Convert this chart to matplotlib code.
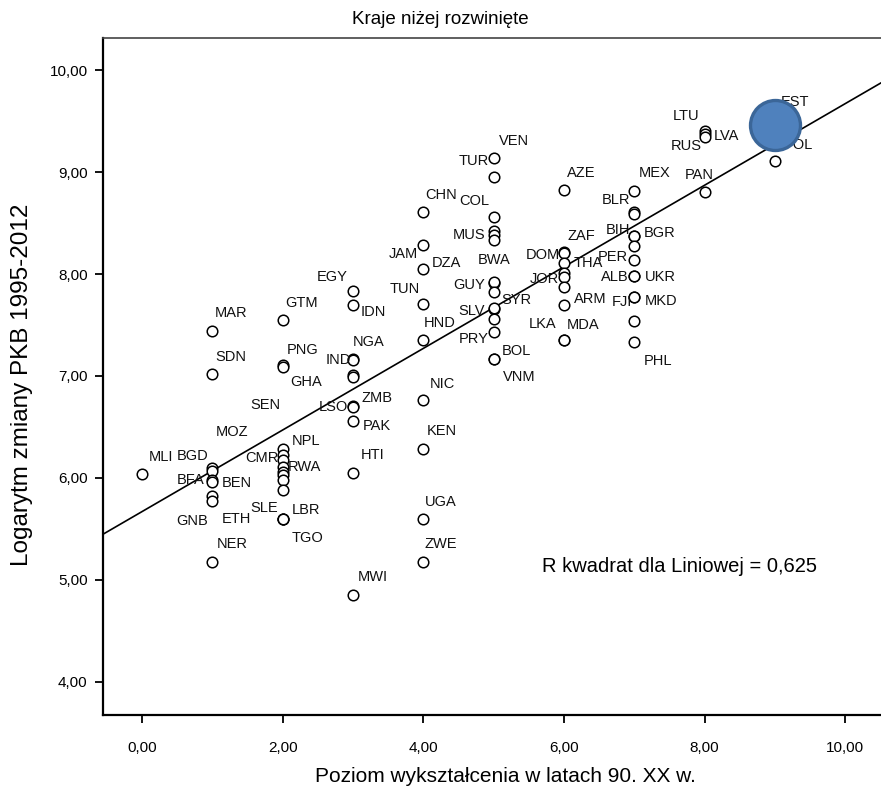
import matplotlib
matplotlib.use("Agg")
import matplotlib.pyplot as plt
from matplotlib.ticker import FuncFormatter

plt.rcParams['font.family'] = ['Liberation Sans', 'DejaVu Sans']

# ---------------- data ----------------
countries = [
    "MLI",
    "MAR", "SDN", "MOZ", "BGD", "BFA", "BEN", "ETH", "GNB", "NER",
    "GTM", "PNG", "GHA", "NPL", "", "CMR", "RWA", "", "", "", "SEN", "LBR", "SLE", "TGO",
    "EGY", "IDN", "NGA", "IND", "", "", "ZMB", "LSO", "PAK", "HTI", "MWI",
    "CHN", "JAM", "DZA", "TUN", "HND", "NIC", "KEN", "UGA", "ZWE",
    "VEN", "TUR", "COL", "", "MUS", "", "GUY", "BWA", "", "SLV", "SYR", "", "PRY", "BOL", "VNM",
    "AZE", "ZAF", "DOM", "THA", "", "JOR", "", "ARM", "MDA", "LKA",
    "MEX", "BLR", "", "BIH", "BGR", "", "PER", "ALB", "UKR", "FJI", "MKD", "", "PHL",
    "LTU", "LVA", "RUS", "PAN",
    "EST", "POL",
]
education = [
    0,
    1, 1, 1, 1, 1, 1, 1, 1, 1,
    2, 2, 2, 2, 2, 2, 2, 2, 2, 2, 2, 2, 2, 2,
    3, 3, 3, 3, 3, 3, 3, 3, 3, 3, 3,
    4, 4, 4, 4, 4, 4, 4, 4, 4,
    5, 5, 5, 5, 5, 5, 5, 5, 5, 5, 5, 5, 5, 5, 5,
    6, 6, 6, 6, 6, 6, 6, 6, 6, 6,
    7, 7, 7, 7, 7, 7, 7, 7, 7, 7, 7, 7, 7,
    8, 8, 8, 8,
    9, 9,
]
log_gdp_change = [
    6.04,
    7.44, 7.02, 6.10, 6.07, 5.98, 5.96, 5.82, 5.77, 5.18,
    7.55, 7.11, 7.09, 6.28, 6.23, 6.18, 6.11, 6.06, 6.03, 5.98, 5.88, 5.60, 5.60, 5.60,
    7.83, 7.70, 7.17, 7.16, 7.01, 6.99, 6.71, 6.70, 6.56, 6.05, 4.85,
    8.61, 8.28, 8.05, 7.71, 7.35, 6.76, 6.28, 5.60, 5.18,
    9.14, 8.95, 8.56, 8.42, 8.38, 8.33, 7.91, 7.92, 7.82, 7.66, 7.67, 7.56, 7.43, 7.17, 7.17,
    8.82, 8.22, 8.21, 8.11, 8.01, 7.97, 7.87, 7.70, 7.35, 7.35,
    8.81, 8.61, 8.59, 8.37, 8.37, 8.27, 8.14, 7.98, 7.98, 7.77, 7.77, 7.54, 7.33,
    9.40, 9.37, 9.34, 8.80,
    9.46, 9.11,
]
highlighted = "EST"
fit_intercept = 5.67
fit_slope = 0.40
r_squared = 0.625
x_ticks = [0, 2, 4, 6, 8, 10]
y_ticks = [4, 5, 6, 7, 8, 9, 10]

# label offsets (display pixels) -- layout only
label_offsets = {
    "MLI": (19, 17),
    "MAR": (19, 18), "SDN": (19, 17), "MOZ": (20, 36), "BGD": (-20, 15),
    "BFA": (-22, 0), "BEN": (25, -1), "ETH": (24, -23), "GNB": (-20, -20), "NER": (20, 18),
    "GTM": (19, 17), "PNG": (20, 15), "GHA": (24, -15), "NPL": (23, 8), "CMR": (-21, 2),
    "RWA": (22, 0), "SEN": (-17, 85), "LBR": (23, 9), "SLE": (-18, 11), "TGO": (25, -19),
    "EGY": (-21, 14), "IDN": (20, -7), "NGA": (16, 17), "IND": (-15, 0), "ZMB": (24, 8),
    "LSO": (-20, 0), "PAK": (24, -5), "HTI": (20, 18), "MWI": (20, 18),
    "CHN": (18, 17), "JAM": (-20, -9), "DZA": (23, 6), "TUN": (-18, 15), "HND": (16, 17),
    "NIC": (19, 16), "KEN": (19, 18), "UGA": (18, 17), "ZWE": (18, 18),
    "VEN": (20, 17), "TUR": (-20, 16), "COL": (-19, 16), "MUS": (-24, 0), "GUY": (-24, -2),
    "BWA": (1, 22), "SLV": (-22, -2), "SYR": (23, 8), "PRY": (-20, -7), "BOL": (23, 8),
    "VNM": (26, -18),
    "AZE": (17, 17), "ZAF": (18, 16), "DOM": (-21, -2), "THA": (24, 0), "JOR": (-19, -2),
    "ARM": (26, 6), "MDA": (19, 15), "LKA": (-21, 16),
    "MEX": (20, 18), "BLR": (-18, 12), "BIH": (-16, 6), "BGR": (25, 3), "PER": (-21, 3),
    "ALB": (-19, -1), "UKR": (26, -1), "FJI": (-12, -5), "MKD": (27, -4), "PHL": (24, -19),
    "LTU": (-18, 15), "LVA": (22, -2), "RUS": (-18, -9), "PAN": (-5, 17),
    "EST": (20, 23), "POL": (24, 16),
}

# ---------------- figure ----------------
W, H = 881, 790
fig = plt.figure(figsize=(W / 100, H / 100), dpi=100)
ax = fig.add_axes([103 / W, 1 - 715 / H, (W - 103) / W, (715 - 38) / H])

ax.scatter(education, log_gdp_change, s=7.6 ** 2, facecolors='white',
           edgecolors='black', linewidths=1.1, zorder=3)

ax.axline((0, fit_intercept), slope=fit_slope, color='black', lw=1.2, zorder=2)

for name, xv, yv in zip(countries, education, log_gdp_change):
    if name and name in label_offsets:
        dx, dy = label_offsets[name]
        ax.annotate(name, (xv, yv), xytext=(dx, dy), textcoords='offset pixels',
                    ha='center', va='center', fontsize=10.5, color='#111111', zorder=4)

hi = countries.index(highlighted)
ax.scatter([education[hi]], [log_gdp_change[hi]], s=36 ** 2, facecolors='#4f81bd',
           edgecolors='#3b6698', linewidths=2.4, zorder=6)

ax.set_xlim(-0.554, 10.51)
ax.set_ylim(3.676, 10.314)
ax.set_xticks(x_ticks)
ax.set_yticks(y_ticks)
fmt = FuncFormatter(lambda v, p: f"{v:.2f}".replace('.', ','))
ax.xaxis.set_major_formatter(fmt)
ax.yaxis.set_major_formatter(fmt)
ax.tick_params(axis='both', direction='out', length=6, width=1.3, labelsize=11,
               colors='black')
ax.tick_params(axis='x', pad=13)
ax.tick_params(axis='y', pad=5)

ax.spines['right'].set_visible(False)
ax.spines['left'].set_linewidth(1.6)
ax.spines['bottom'].set_linewidth(1.6)
ax.spines['top'].set_linewidth(1.2)
ax.spines['top'].set_color('#444444')

fig.text(680 / W, 1 - 567 / H, f"R kwadrat dla Liniowej = {r_squared:.3f}".replace('.', ','),
         ha='center', va='center', fontsize=14.5)

fig.text(0.5, 1 - 19 / H, "Kraje niżej rozwinięte", ha='center', va='center', fontsize=13.5)
fig.text(505 / W, 1 - 777 / H, "Poziom wykształcenia w latach 90. XX w.",
         ha='center', va='center', fontsize=15)
fig.text(22 / W, 1 - 385 / H, "Logarytm zmiany PKB 1995-2012", rotation=90,
         ha='center', va='center', fontsize=17.5)

fig.savefig("out.png", dpi=100)
